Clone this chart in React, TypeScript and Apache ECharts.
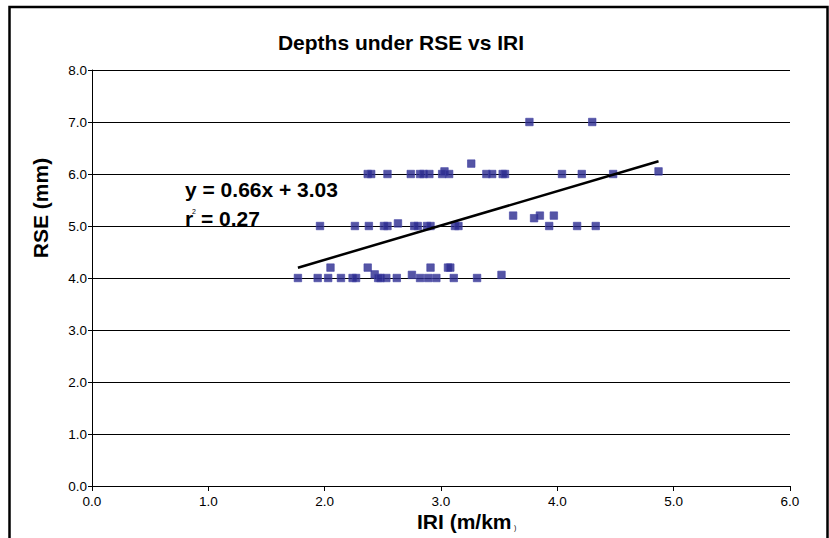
import React, { useEffect, useRef } from "react";
import * as echarts from "echarts";

const chartTitle = "Depths under RSE vs IRI";
const xAxisTitle = "IRI (m/km";
const yAxisTitle = "RSE (mm)";
const xTickValues = [0, 1, 2, 3, 4, 5, 6];
const yTickValues = [0, 1, 2, 3, 4, 5, 6, 7, 8];

// IRI (m/km) values of each observation
const iriValues = [
  1.77, 1.94, 2.03, 2.05, 2.14, 2.24, 2.27, 2.37, 2.43, 2.46, 2.48, 2.53, 2.62, 2.75, 2.82, 2.89, 2.91, 2.96, 3.06, 3.08, 3.11, 3.31, 3.52,
  1.96, 2.26, 2.38, 2.51, 2.54, 2.63, 2.77, 2.8, 2.88, 2.91, 3.12, 3.15, 3.62, 3.8, 3.85, 3.97, 3.93, 4.17, 4.33,
  2.37, 2.4, 2.54, 2.74, 2.82, 2.85, 2.9, 3.01, 3.03, 3.07, 3.26, 3.39, 3.44, 3.53, 3.55, 4.04, 4.21, 4.48, 4.87,
  3.76, 4.3,
];
// RSE (mm) values of each observation
const rseValues = [
  4.0, 4.0, 4.0, 4.2, 4.0, 4.0, 4.0, 4.2, 4.07, 4.0, 4.0, 4.0, 4.0, 4.06, 4.0, 4.0, 4.2, 4.0, 4.2, 4.2, 4.0, 4.0, 4.06,
  5.0, 5.0, 5.0, 5.0, 5.0, 5.05, 5.0, 5.0, 5.0, 5.0, 5.0, 5.0, 5.2, 5.15, 5.2, 5.2, 5.0, 5.0, 5.0,
  6.0, 6.0, 6.0, 6.0, 6.0, 6.0, 6.0, 6.0, 6.05, 6.0, 6.2, 6.0, 6.0, 6.0, 6.0, 6.0, 6.0, 6.0, 6.05,
  7.0, 7.0,
];

const trendSlope = 0.66;
const trendIntercept = 3.03;
const equationText = "y = 0.66x + 3.03";
const r2Value = "= 0.27";

const FONT = "'Liberation Sans', Arial, sans-serif";

export default function App() {
  const ref = useRef<HTMLDivElement>(null);
  useEffect(() => {
    if (!ref.current) return;
    const chart = echarts.init(ref.current, undefined, { renderer: "svg" });
    const points = iriValues.map((x, i) => [x, rseValues[i]]);
    const xMin = Math.min(...iriValues);
    const xMax = Math.max(...iriValues);
    const trend = [
      [xMin, trendSlope * xMin + trendIntercept],
      [xMax, trendSlope * xMax + trendIntercept],
    ];
    const boldText = (x: number, y: number, text: string, extra: any = {}) => ({
      type: "text",
      x,
      y,
      ...extra,
      style: {
        text,
        fontFamily: FONT,
        fontWeight: "bold",
        fontSize: 21,
        fill: "#000",
        align: "left",
        verticalAlign: "middle",
        ...(extra.style || {}),
      },
    });
    chart.setOption({
      animation: false,
      backgroundColor: "#fff",
      grid: { left: 92, top: 70, right: 39, bottom: 52 },
      xAxis: {
        type: "value",
        min: xTickValues[0],
        max: xTickValues[xTickValues.length - 1],
        interval: 1,
        axisLine: { lineStyle: { color: "#000", width: 1 } },
        axisTick: { show: true, length: 5, lineStyle: { color: "#000" } },
        axisLabel: {
          color: "#000",
          fontFamily: FONT,
          fontSize: 13.5,
          margin: 8,
          formatter: (v: number) => v.toFixed(1),
        },
        splitLine: { show: false },
      },
      yAxis: {
        type: "value",
        min: yTickValues[0],
        max: yTickValues[yTickValues.length - 1],
        interval: 1,
        axisLine: { show: true, lineStyle: { color: "#000", width: 1 } },
        axisTick: { show: true, length: 4, lineStyle: { color: "#000" } },
        axisLabel: {
          color: "#000",
          fontFamily: FONT,
          fontSize: 13.5,
          margin: 5,
          formatter: (v: number) => v.toFixed(1),
        },
        splitLine: { show: true, lineStyle: { color: "#000", width: 1 } },
      },
      series: [
        {
          type: "scatter",
          data: points,
          symbol: "rect",
          symbolSize: 7.5,
          itemStyle: { color: "#2b2b8f", borderColor: "#4646a6", borderWidth: 0.8 },
          z: 2,
        },
        {
          type: "line",
          data: trend,
          showSymbol: false,
          symbol: "none",
          lineStyle: { color: "#000", width: 2.5 },
          z: 3,
        },
      ],
      graphic: [
        {
          type: "rect",
          shape: { x: 9.5, y: 7, width: 818, height: 545 },
          style: { fill: "none", stroke: "#000", lineWidth: 2.5 },
          silent: true,
        },
        boldText(401, 42, chartTitle, { style: { align: "center" } }),
        boldText(40, 208, yAxisTitle, { rotation: Math.PI / 2, style: { align: "center" } }),
        boldText(417, 521, xAxisTitle),
        {
          type: "text",
          x: 514,
          y: 527,
          style: { text: ")", fontFamily: FONT, fontSize: 7, fill: "#000", align: "left", verticalAlign: "middle" },
        },
        boldText(185, 189, equationText),
        boldText(185, 218, "r"),
        {
          type: "text",
          x: 192,
          y: 211,
          style: { text: "2", fontFamily: FONT, fontSize: 7, fill: "#000", align: "left", verticalAlign: "middle" },
        },
        boldText(201, 218, r2Value),
      ],
    });
    return () => chart.dispose();
  }, []);
  return (
    <div
      ref={ref}
      style={{ position: "fixed", left: 0, top: 0, width: 829, height: 538, background: "#fff" }}
    />
  );
}
